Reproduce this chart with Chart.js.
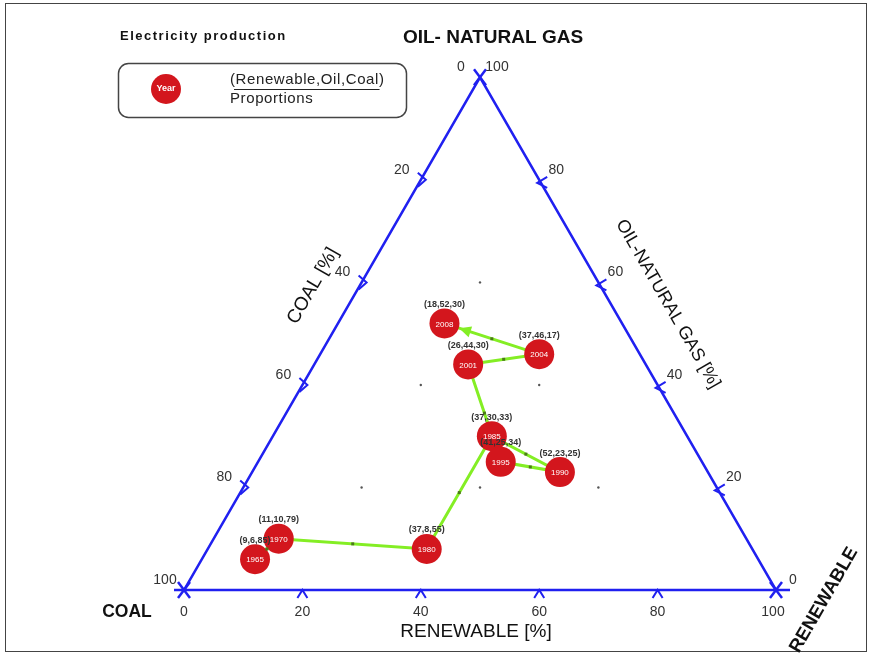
<!DOCTYPE html>
<html>
<head>
<meta charset="utf-8">
<title>Electricity production</title>
<script src="https://cdn.jsdelivr.net/npm/chart.js@4.4.1/dist/chart.umd.min.js"></script>
<style>
  html, body { margin: 0; padding: 0; background: #ffffff; }
  canvas { display: block; }
</style>
</head>
<body>
<canvas id="c" width="882" height="660"></canvas>
<script>
// Share of electricity production by source, in percent (Renewable, Oil-Natural gas, Coal)
const years     = ['1965', '1970', '1980', '1985', '1990', '1995', '2001', '2004', '2008'];
const renewable = [9, 11, 37, 37, 52, 41, 26, 37, 18];
const oilGas    = [6, 10, 8, 30, 23, 25, 44, 46, 52];
const coal      = [85, 79, 55, 33, 25, 34, 30, 17, 30];

// Axis tick values (percent) shared by the three sides
const tickValues = [0, 20, 40, 60, 80, 100];

// Interior grid intersections marked with a dot
const gridRenewable = [20, 20, 40, 20, 40, 60];
const gridOilGas    = [60, 40, 40, 20, 20, 20];

const H = Math.sqrt(3) / 2;
// ternary (renewable, oil-gas) -> cartesian plot units
const toXY = (r, o) => ({ x: r + o / 2, y: o * H });

const FONT = '"Liberation Sans", Arial, sans-serif';
const BLUE = '#2020f0';
const RED = '#d3161d';
const GREEN = '#84ee24';

const pathPoints = renewable.map((r, i) => toXY(r, oilGas[i]));
const triangle = [toXY(0, 0), toXY(100, 0), toXY(0, 100), toXY(0, 0)];
const gridDots = gridRenewable.map((r, i) => toXY(r, gridOilGas[i]));

const ternaryPlugin = {
  id: 'ternary',
  beforeDatasetsDraw(chart) {
    const ctx = chart.ctx;
    const xs = chart.scales.x, ys = chart.scales.y;
    const P = (r, o) => { const p = toXY(r, o); return { x: xs.getPixelForValue(p.x), y: ys.getPixelForValue(p.y) }; };
    ctx.save();

    // frame
    ctx.strokeStyle = '#444';
    ctx.lineWidth = 1;
    ctx.strokeRect(5.5, 3.5, 861, 648);

    // short extensions of the base line past the corners
    const bl = P(0, 0), br = P(100, 0), tp = P(0, 100);
    ctx.strokeStyle = BLUE;
    ctx.lineWidth = 2.5;
    ctx.beginPath();
    ctx.moveTo(bl.x - 10, bl.y); ctx.lineTo(bl.x, bl.y);
    ctx.moveTo(br.x, br.y); ctx.lineTo(br.x + 14, br.y);
    ctx.stroke();

    // corner crosses
    [bl, br, tp].forEach(v => {
      ctx.beginPath();
      ctx.moveTo(v.x - 6, v.y - 8); ctx.lineTo(v.x + 6, v.y + 8);
      ctx.moveTo(v.x + 6, v.y - 8); ctx.lineTo(v.x - 6, v.y + 8);
      ctx.stroke();
    });

    // tick marks: small chevrons along each side
    ctx.lineWidth = 2;
    tickValues.slice(1, -1).forEach(t => {
      // bottom side: renewable
      let p = P(t, 0);
      ctx.beginPath();
      ctx.moveTo(p.x - 5, p.y + 8); ctx.lineTo(p.x, p.y); ctx.lineTo(p.x + 5, p.y + 8);
      ctx.stroke();
      // left side: coal (coal = t -> renewable 0, oil = 100 - t)
      p = P(0, 100 - t);
      ctx.beginPath();
      ctx.moveTo(p.x - 3, p.y - 7); ctx.lineTo(p.x + 5, p.y); ctx.lineTo(p.x - 3, p.y + 7);
      ctx.stroke();
      // right side: oil-natural gas
      p = P(100 - t, t);
      ctx.beginPath();
      ctx.moveTo(p.x + 8, p.y - 3); ctx.lineTo(p.x - 2, p.y + 3); ctx.lineTo(p.x + 8, p.y + 8);
      ctx.stroke();
    });

    // tick labels
    ctx.fillStyle = '#333';
    ctx.font = '14px ' + FONT;
    ctx.textAlign = 'center';
    ctx.textBaseline = 'middle';
    tickValues.forEach(t => {
      let p = P(t, 0);
      ctx.fillText(String(t), p.x - (t === 100 ? 3 : 0), p.y + 22);
      p = P(0, 100 - t);
      ctx.fillText(String(t), p.x - 19, p.y - 10);
      p = P(100 - t, t);
      ctx.fillText(String(t), p.x + 17, p.y - 10);
    });

    // axis titles
    ctx.fillStyle = '#111';
    ctx.font = 'bold 19px ' + FONT;
    ctx.fillText('OIL- NATURAL GAS', 493, 38);
    ctx.font = 'bold 17.5px ' + FONT;
    ctx.fillText('COAL', 127, 612);
    ctx.save();
    ctx.translate(824, 600);
    ctx.rotate(-Math.PI / 3);
    ctx.font = 'bold 18.5px ' + FONT;
    ctx.fillText('RENEWABLE', 0, 0);
    ctx.restore();

    ctx.font = '19px ' + FONT;
    ctx.fillText('RENEWABLE [%]', 476, 632);
    ctx.save();
    ctx.translate(313, 286);
    ctx.rotate(-Math.PI / 3);
    ctx.fillText('COAL [%]', 0, 0);
    ctx.restore();
    ctx.save();
    ctx.translate(668, 304);
    ctx.rotate(Math.PI / 3);
    ctx.font = '18px ' + FONT;
    ctx.fillText('OIL-NATURAL GAS [%]', 0, 0);
    ctx.restore();

    // title and legend box
    ctx.textAlign = 'left';
    ctx.font = 'bold 13px ' + FONT;
    ctx.letterSpacing = '1.5px';
    ctx.fillText('Electricity production', 120, 36);
    ctx.letterSpacing = '0px';

    ctx.strokeStyle = '#444';
    ctx.lineWidth = 1.5;
    ctx.beginPath();
    ctx.roundRect(118.5, 63.5, 288, 54, 10);
    ctx.stroke();

    ctx.fillStyle = RED;
    ctx.beginPath();
    ctx.arc(166, 89, 15, 0, Math.PI * 2);
    ctx.fill();
    ctx.fillStyle = '#fff';
    ctx.font = 'bold 9px ' + FONT;
    ctx.textAlign = 'center';
    ctx.fillText('Year', 166, 89);

    ctx.fillStyle = '#222';
    ctx.font = '15px ' + FONT;
    ctx.letterSpacing = '0.6px';
    ctx.textAlign = 'left';
    const lg = '(Renewable,Oil,Coal)';
    ctx.fillText(lg, 230, 80);
    const w = ctx.measureText(lg).width;
    ctx.lineWidth = 1;
    ctx.strokeStyle = '#222';
    ctx.beginPath();
    ctx.moveTo(234, 89.5); ctx.lineTo(230 + w - 5, 89.5);
    ctx.stroke();
    ctx.fillText('Proportions', 230, 99);
    ctx.letterSpacing = '0px';

    ctx.restore();
  },
  afterDatasetsDraw(chart) {
    const ctx = chart.ctx;
    const meta = chart.getDatasetMeta(2);
    ctx.save();
    const pts = meta.data;

    // small darker marks halfway along each segment
    ctx.fillStyle = '#4c7a1a';
    for (let i = 1; i < pts.length; i++) {
      const mx = (pts[i - 1].x + pts[i].x) / 2, my = (pts[i - 1].y + pts[i].y) / 2;
      ctx.fillRect(mx - 1.5, my - 1.5, 3, 3);
    }

    // arrowhead at the end of the path, touching the last circle
    const a = pts[pts.length - 2], b = pts[pts.length - 1];
    const ang = Math.atan2(b.y - a.y, b.x - a.x);
    const tipX = b.x - Math.cos(ang) * 15.5, tipY = b.y - Math.sin(ang) * 15.5;
    ctx.fillStyle = GREEN;
    ctx.beginPath();
    ctx.moveTo(tipX, tipY);
    ctx.lineTo(tipX - Math.cos(ang - 0.45) * 13, tipY - Math.sin(ang - 0.45) * 13);
    ctx.lineTo(tipX - Math.cos(ang + 0.45) * 13, tipY - Math.sin(ang + 0.45) * 13);
    ctx.closePath();
    ctx.fill();

    // year inside each circle, proportions above it
    ctx.textAlign = 'center';
    ctx.textBaseline = 'middle';
    pts.forEach((el, i) => {
      ctx.fillStyle = '#fff';
      ctx.font = '8px ' + FONT;
      ctx.fillText(years[i], el.x, el.y + 1);
      ctx.fillStyle = '#333';
      ctx.font = 'bold 9px ' + FONT;
      ctx.fillText('(' + renewable[i] + ',' + oilGas[i] + ',' + coal[i] + ')', el.x, el.y - 19);
    });
    ctx.restore();
  }
};

new Chart(document.getElementById('c'), {
  type: 'scatter',
  data: {
    datasets: [
      {
        label: 'Triangle',
        data: triangle,
        showLine: true,
        borderColor: BLUE,
        borderWidth: 2.5,
        pointRadius: 0,
        order: 3
      },
      {
        label: 'Grid',
        data: gridDots,
        pointRadius: 1.2,
        pointBackgroundColor: '#555',
        pointBorderWidth: 0,
        order: 2
      },
      {
        label: 'Production mix',
        data: pathPoints,
        showLine: true,
        borderColor: GREEN,
        borderWidth: 3,
        pointRadius: 15,
        pointBackgroundColor: RED,
        pointBorderColor: RED,
        pointBorderWidth: 0,
        order: 1
      }
    ]
  },
  options: {
    responsive: false,
    maintainAspectRatio: false,
    animation: false,
    devicePixelRatio: 1,
    layout: { padding: 0, autoPadding: false },
    plugins: { legend: { display: false }, tooltip: { enabled: false } },
    scales: {
      x: { type: 'linear', display: false, min: -184 / 5.92, max: 698 / 5.92 },
      y: { type: 'linear', display: false, min: -70 / 5.92, max: 590 / 5.92 }
    }
  },
  plugins: [ternaryPlugin]
});
</script>
</body>
</html>
